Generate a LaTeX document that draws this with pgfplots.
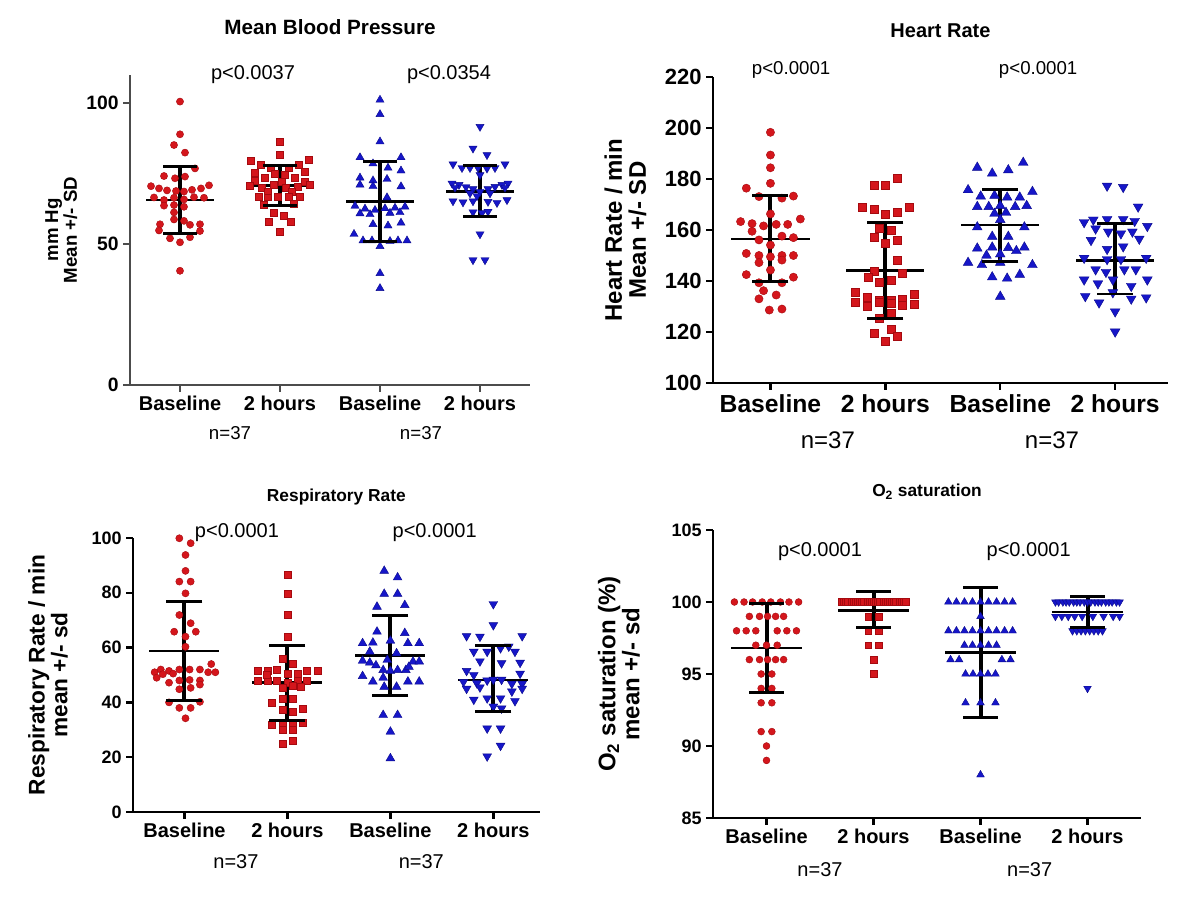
\documentclass[border=0pt]{standalone}
\usepackage{fontspec}
\setmainfont{Liberation Sans}
\usepackage{pgfplots}
\pgfplotsset{compat=1.18}
\definecolor{mred}{RGB}{212,22,28}
\definecolor{mredd}{RGB}{165,10,15}
\definecolor{mblue}{RGB}{22,22,200}
\definecolor{mblued}{RGB}{10,10,140}
\newcommand\fs[1]{\fontsize{#1}{#1}\selectfont}
\pgfplotsset{
  gp/.style={scale only axis, axis lines*=left, xmin=0.5, xtick={1,2,3,4},
    xticklabels={Baseline,2 hours,Baseline,2 hours}, tick align=outside,
    major tick length=5pt, clip=false, /pgf/number format/assume math mode=true,
    axis line style={line width=1.8pt, black}, tick style={line width=1.8pt, black},
    ylabel style={align=center}},
  rc/.style={only marks, mark=*, mark size=#1, mark options={fill=mred, draw=mredd, line width=0.3pt}},
  rs/.style={only marks, mark=square*, mark size=#1, mark options={fill=mred, draw=mredd, line width=0.3pt}},
  bu/.style={only marks, mark=triangle*, mark size=#1, mark options={fill=mblue, draw=mblued, line width=0.3pt}},
  bd/.style={only marks, mark=triangle*, mark size=#1, mark options={fill=mblue, draw=mblued, line width=0.3pt, rotate=180}},
  sdbar/.style={black, line width=3pt, mark=-, mark size=#1, mark options={line width=2.2pt}},
  mline/.style={black, line width=2pt},
}
\begin{document}
\begin{tikzpicture}
\path[use as bounding box] (0pt,0pt) rectangle (900pt,686.25pt);

% ---------------- Mean Blood Pressure ----------------
\begin{axis}[gp, at={(97.5pt,397.5pt)}, anchor=south west, width=300pt, height=232.65pt,
  xmax=4.5, ymin=0, ymax=110, ytick={0,50,100},
  axis line style={line width=1.2pt, black!70}, tick style={line width=1.2pt, black!70},
  xticklabel style={font=\fs{15pt}\bfseries}, yticklabel style={font=\fs{14.5pt}\bfseries},
  ylabel={mm Hg\\Mean +/- SD}, ylabel style={font=\fs{14pt}\bfseries}]
\addplot[rc=2.7pt] coordinates {(1,100.5)(1,88.9)(0.94,85.1)(1.05,82.4)(1.15,76.8)(0.84,74.1)(0.95,73.3)(1.05,73.9)(0.71,70.5)(0.79,69.7)(0.87,69.0)(0.96,68.8)(1.04,68.6)(1.12,69.2)(1.21,69.7)(1.29,70.8)(0.74,66.5)(0.84,65.6)(0.94,66.4)(1.04,65.8)(1.14,66.6)(1.24,66.4)(0.84,63.6)(0.94,63.8)(1.04,63.2)(0.94,61.2)(0.94,58.7)(1.04,58.2)(0.8,57.0)(1.1,56.8)(1.2,57.0)(0.79,54.8)(1.2,54.6)(0.9,52.0)(1,50.6)(1.1,52.4)(1,40.5)};
\addplot[rs=2.6pt] coordinates {(2,86.3)(2,81.6)(1.71,79.5)(2.29,80.0)(1.81,78.0)(2.19,78.0)(1.91,77.2)(2.09,77.0)(1.75,75.3)(2.25,75.6)(1.95,75.0)(2.05,74.5)(1.85,73.5)(2.15,73.5)(1.75,72.3)(2.25,72.0)(2.02,72.2)(1.7,70.8)(2.3,70.9)(1.82,70.0)(2.06,70.0)(2.18,70.2)(1.88,68.5)(2.12,68.6)(1.79,66.8)(1.88,66.6)(1.98,66.9)(2.09,66.8)(2.2,66.8)(1.84,63.8)(2.14,64.2)(1.94,61.2)(2.04,60.0)(1.89,57.9)(2.11,57.9)(2,54.4)(1.94,71.0)};
\addplot[bu=3.5pt] coordinates {(3,101.1)(3,96.0)(3,86.3)(2.8,80.7)(3.21,80.7)(2.93,78.5)(3.08,77.0)(3.21,76.0)(2.8,73.5)(2.93,72.5)(3.07,73.0)(2.8,71.0)(2.93,70.5)(3.21,70.4)(3.07,66.5)(2.75,63.5)(2.85,62.5)(2.95,62.0)(3.05,62.6)(3.15,62.8)(3.25,63.2)(2.8,60.8)(2.9,60.5)(3.1,61.0)(3.2,61.2)(2.93,57.0)(3.08,56.5)(3.21,57.5)(2.74,53.5)(2.83,51.2)(2.92,51.2)(3,49.2)(3.1,51.0)(3.18,51.2)(3.27,51.2)(3,39.6)(3,34.3)};
\addplot[bd=3.5pt] coordinates {(4,91.6)(3.93,83.9)(4.07,81.6)(3.73,78.3)(3.82,77.0)(3.9,77.0)(3.98,77.0)(4.07,76.8)(4.15,77.0)(4.25,78.3)(4,74.5)(3.72,71.5)(3.79,71.0)(3.86,70.2)(3.93,69.5)(4,68.5)(4.08,69.5)(4.15,70.3)(4.22,71.0)(4.28,71.5)(3.75,70.0)(4.25,70.0)(3.9,68.0)(4.1,68.0)(3.73,65.2)(3.83,64.8)(3.93,65.2)(4.08,65.0)(4.17,64.6)(4.27,65.6)(3.93,61.3)(4.02,61.0)(4.08,61.5)(4,53.5)(3.93,44.3)(4.05,44.3)(3.97,67.0)};
\addplot[sdbar=12.75pt] coordinates {(1,53.8)(1,77.4)};
\addplot[mline] coordinates {(0.66,65.6)(1.34,65.6)};
\addplot[sdbar=12.75pt] coordinates {(2,63.6)(2,78.0)};
\addplot[mline] coordinates {(1.66,70.8)(2.34,70.8)};
\addplot[sdbar=12.75pt] coordinates {(3,50.8)(3,79.2)};
\addplot[mline] coordinates {(2.66,65.0)(3.34,65.0)};
\addplot[sdbar=12.75pt] coordinates {(4,59.7)(4,77.7)};
\addplot[mline] coordinates {(3.66,68.5)(4.34,68.5)};
\node[font=\fs{15pt}] at (axis cs:1.73,110) {p<0.0037};
\node[font=\fs{15pt}] at (axis cs:3.69,110) {p<0.0354};
\node[font=\fs{14pt}] at ([yshift=-36pt]axis cs:1.5,0) {n=37};
\node[font=\fs{14pt}] at ([yshift=-36pt]axis cs:3.41,0) {n=37};
\node[font=\fs{15.5pt}\bfseries] at ([yshift=36pt]rel axis cs:0.5,1) {Mean Blood Pressure};
\end{axis}

% ---------------- Heart Rate ----------------
\begin{axis}[gp, at={(534.75pt,399pt)}, anchor=south west, width=341.25pt, height=229.5pt,
  xmax=4.46, ymin=100, ymax=220, ytick={100,120,...,220},
  xticklabel style={font=\fs{18.5pt}\bfseries}, yticklabel style={font=\fs{16.5pt}\bfseries},
  ylabel={Heart Rate / min\\Mean +/- SD}, ylabel style={font=\fs{18pt}\bfseries}, ylabel shift=7pt]
\addplot[rc=3.1pt] coordinates {(1,198.3)(1,189.4)(1,184.4)(1,178.3)(0.79,176.4)(0.9,173.1)(1.1,172.5)(1.2,173.3)(1,166.3)(0.74,163.3)(0.84,162.5)(0.94,161.6)(1.05,162.2)(1.15,162.2)(1.26,164.3)(0.84,159.5)(1.1,157.6)(0.9,156.1)(1.2,157.0)(1,154.1)(0.79,150.8)(0.9,150.0)(1,149.5)(1.1,150.0)(1.2,150.0)(0.9,147.2)(1.1,148.2)(1,144.3)(0.79,142.5)(1.2,141.5)(0.9,139.3)(1.1,139.3)(0.94,136.2)(0.9,133.0)(1.05,134.5)(0.99,128.6)(1.1,129.0)};
\addplot[rs=3pt] coordinates {(2.1,180.5)(1.9,177.4)(2,177.4)(1.8,169.0)(1.9,168.3)(2.21,169.0)(2,166.0)(2.1,166.8)(1.95,160.8)(2.05,160.0)(1.9,157.2)(2.1,156.0)(2,155.0)(2.1,148.2)(1.9,144.0)(2.15,143.2)(1.85,141.5)(1.95,139.5)(2.05,140.3)(1.74,135.5)(1.84,133.8)(1.95,132.5)(2.05,132.5)(2.15,133.0)(2.25,134.8)(1.74,131.5)(1.84,130.0)(1.95,131.5)(2.05,131.2)(2.15,130.5)(2.25,130.8)(1.95,125.5)(2.05,127.5)(1.9,119.5)(2.05,121.0)(2.1,118.5)(2,116.2)};
\addplot[bu=4.2pt] coordinates {(3.2,186.4)(2.8,184.5)(3.07,183.5)(2.93,182.2)(2.72,175.7)(3.28,175.0)(2.83,173.2)(2.95,173.5)(3.06,172.8)(3.17,172.8)(2.8,169.1)(2.9,169.1)(3,169.5)(3.13,169.1)(3.23,169.5)(2.95,166.4)(3.05,166.8)(3,164.0)(2.8,161.1)(3.21,161.1)(2.93,157.4)(3.07,157.4)(2.8,152.8)(2.93,153.2)(3.07,153.0)(3.14,151.8)(3.21,153.2)(2.88,150.0)(3,150.5)(2.72,147.2)(2.84,146.3)(3,147.2)(3.28,146.3)(2.93,141.5)(3.06,141.0)(3.17,142.5)(3,133.9)};
\addplot[bd=4.2pt] coordinates {(3.93,177.3)(4.07,176.8)(4.2,169.1)(3.73,163.0)(3.81,164.0)(3.93,164.2)(4.07,164.2)(4.17,163.5)(4.28,161.5)(3.83,160.5)(3.94,159.3)(4.05,158.6)(4.15,159.3)(4.21,156.5)(3.79,156.0)(4.07,153.5)(3.93,152.5)(3.73,149.0)(3.93,148.5)(4.05,148.5)(4.27,149.0)(3.83,144.5)(3.92,143.5)(4.08,144.5)(4.18,144.5)(3.73,140.5)(3.85,139.0)(3.98,140.5)(4.14,138.0)(4.28,140.5)(3.74,134.0)(3.86,131.5)(3.98,135.5)(4.14,133.0)(4.27,133.5)(4,128.0)(4,120.1)};
\addplot[sdbar=13.5pt] coordinates {(1,139.7)(1,173.5)};
\addplot[mline] coordinates {(0.66,156.5)(1.34,156.5)};
\addplot[sdbar=13.5pt] coordinates {(2,125.4)(2,162.9)};
\addplot[mline] coordinates {(1.66,144.1)(2.34,144.1)};
\addplot[sdbar=13.5pt] coordinates {(3,147.6)(3,176.0)};
\addplot[mline] coordinates {(2.66,162.0)(3.34,162.0)};
\addplot[sdbar=13.5pt] coordinates {(4,134.9)(4,162.4)};
\addplot[mline] coordinates {(3.66,148.1)(4.34,148.1)};
\node[font=\fs{14pt}] at (axis cs:1.18,222.7) {p<0.0001};
\node[font=\fs{14pt}] at (axis cs:3.33,222.7) {p<0.0001};
\node[font=\fs{18pt}] at ([yshift=-42.75pt]axis cs:1.5,100) {n=37};
\node[font=\fs{18pt}] at ([yshift=-42.75pt]axis cs:3.45,100) {n=37};
\node[font=\fs{15pt}\bfseries] at ([yshift=35pt]rel axis cs:0.5,1) {Heart Rate};
\end{axis}

% ---------------- Respiratory Rate ----------------
\begin{axis}[gp, at={(99.75pt,77.25pt)}, anchor=south west, width=305pt, height=205.5pt,
  xmax=4.45, ymin=0, ymax=100, ytick={0,20,...,100},
  xticklabel style={font=\fs{15pt}\bfseries}, yticklabel style={font=\fs{13.5pt}\bfseries},
  ylabel={Respiratory Rate / min\\mean +/- sd}, ylabel style={font=\fs{17pt}\bfseries}, ylabel shift=11pt]
\addplot[rc=2.7pt] coordinates {(0.95,99.9)(1.06,98.1)(1.01,93.8)(1.01,88.0)(0.95,84.1)(1.06,84.1)(1.01,79.8)(0.95,71.9)(1.06,68.9)(0.9,65.8)(1.11,65.8)(1.01,64.0)(1.01,60.3)(1.26,54.0)(0.71,51.0)(0.77,52.0)(0.85,51.5)(0.95,52.0)(1.05,52.0)(1.15,52.0)(1.23,51.0)(1.3,51.0)(0.79,50.3)(0.89,50.5)(0.73,49.0)(0.85,47.2)(0.95,48.0)(1.05,48.2)(1.15,48.0)(0.95,44.8)(1.06,45.3)(1.15,46.5)(0.85,40.0)(1.15,40.2)(0.95,38.0)(1.06,38.0)(1.01,34.2)};
\addplot[rs=2.6pt] coordinates {(2,86.5)(2,79.8)(2,71.9)(2,64.0)(1.95,56.0)(2.05,54.0)(1.71,51.6)(1.81,51.6)(1.9,51.8)(2,50.5)(2.1,50.5)(2.19,51.6)(2.29,51.6)(1.71,47.8)(1.81,47.8)(1.9,48.0)(2,47.2)(2.1,47.8)(2.19,47.8)(1.95,45.5)(2.05,46.0)(2.13,45.8)(1.85,40.0)(1.95,41.5)(2.05,41.2)(1.95,37.5)(2.05,36.5)(2.15,37.8)(1.85,32.0)(1.95,32.5)(2.05,32.5)(2.15,32.5)(1.95,30.0)(2.05,30.0)(1.95,24.8)(2.05,26.0)(1.8,50.0)};
\addplot[bu=3.8pt] coordinates {(2.94,88.0)(3.07,85.6)(2.94,79.6)(3.07,79.6)(2.87,74.9)(3.14,75.5)(2.87,65.8)(3.14,65.3)(2.73,61.6)(2.83,61.8)(3,62.5)(3.17,61.6)(3.28,61.6)(3.06,57.9)(2.8,58.5)(2.73,55.2)(2.8,54.5)(2.86,53.5)(2.93,51.8)(3,51.5)(3.07,51.8)(3.15,51.8)(3.22,54.9)(3.28,54.9)(2.97,55.5)(2.73,49.6)(2.93,49.0)(2.83,47.6)(2.94,45.7)(3.06,45.7)(3.17,47.6)(3.28,47.6)(2.93,35.4)(3.07,35.4)(3,29.3)(3,19.6)(3.18,53.0)};
\addplot[bd=3.8pt] coordinates {(4,75.9)(4,68.2)(3.74,64.2)(3.87,64.0)(4.28,64.2)(3.81,58.5)(3.94,58.5)(4.07,59.8)(4.15,60.4)(4.21,58.5)(4.08,54.3)(3.87,55.0)(4.26,54.5)(3.74,51.5)(3.81,50.0)(4.26,50.5)(3.71,47.5)(3.84,47.0)(3.94,48.0)(4,48.3)(4.08,48.3)(4.18,46.8)(4.28,46.8)(3.74,45.0)(3.87,45.5)(4.18,44.0)(4.28,45.0)(3.81,41.0)(3.94,41.5)(4.07,41.5)(4.21,40.5)(4,38.5)(4.08,37.8)(3.94,30.5)(4.07,30.5)(4.07,24.2)(3.94,20.3)};
\addplot[sdbar=13.5pt] coordinates {(1,40.6)(1,76.7)};
\addplot[mline] coordinates {(0.66,58.8)(1.34,58.8)};
\addplot[sdbar=13.5pt] coordinates {(2,33.4)(2,60.6)};
\addplot[mline] coordinates {(1.66,47.2)(2.34,47.2)};
\addplot[sdbar=13.5pt] coordinates {(3,42.5)(3,71.7)};
\addplot[mline] coordinates {(2.66,57.1)(3.34,57.1)};
\addplot[sdbar=13.5pt] coordinates {(4,36.6)(4,60.6)};
\addplot[mline] coordinates {(3.66,48.2)(4.34,48.2)};
\node[font=\fs{15pt}] at (axis cs:1.51,101.8) {p<0.0001};
\node[font=\fs{15pt}] at (axis cs:3.43,101.8) {p<0.0001};
\node[font=\fs{15pt}] at ([yshift=-37.5pt]axis cs:1.5,0) {n=37};
\node[font=\fs{15pt}] at ([yshift=-37.5pt]axis cs:3.3,0) {n=37};
\node[font=\fs{13pt}\bfseries] at ([yshift=31pt]rel axis cs:0.5,1) {Respiratory Rate};
\end{axis}

% ---------------- O2 saturation ----------------
\begin{axis}[gp, at={(534.75pt,72.75pt)}, anchor=south west, width=321pt, height=216pt,
  xmax=4.5, ymin=85, ymax=105, ytick={85,90,...,105},
  xticklabel style={font=\fs{15pt}\bfseries}, yticklabel style={font=\fs{13.5pt}\bfseries},
  ylabel={O\textsubscript{2} saturation (\%)\\mean +/- sd}, ylabel style={font=\fs{18pt}\bfseries}, ylabel shift=17pt]
\addplot[rc=2.6pt] coordinates {(0.7,100)(0.79,100)(0.87,100)(0.96,100)(1.04,100)(1.13,100)(1.21,100)(1.3,100)(0.84,99)(0.935,99)(1.01,99)(1.085,99)(1.16,99)(0.72,98)(0.81,98)(0.9,98)(1.1,98)(1.19,98)(1.28,98)(0.9,97)(1,97)(1.1,97)(0.84,96)(0.935,96)(1.01,96)(1.085,96)(1.16,96)(0.95,95)(1.05,95)(0.95,94)(1.05,94)(0.95,93)(1.05,93)(0.95,91)(1.05,91)(1,90)(1,89)};
\addplot[rs=2.5pt] coordinates {(1.70,100)(1.72,100)(1.74,100)(1.76,100)(1.79,100)(1.81,100)(1.83,100)(1.85,100)(1.87,100)(1.89,100)(1.91,100)(1.94,100)(1.96,100)(1.98,100)(2.0,100)(2.02,100)(2.04,100)(2.06,100)(2.09,100)(2.11,100)(2.13,100)(2.15,100)(2.17,100)(2.19,100)(2.21,100)(2.24,100)(2.26,100)(2.28,100)(2.30,100)(1.95,99)(2.05,99)(1.95,98)(2.05,98)(1.95,97)(2.05,97)(2,96)(2,95)};
\addplot[bu=3.3pt] coordinates {(2.7,100)(2.775,100)(2.85,100)(2.925,100)(3.0,100)(3.075,100)(3.15,100)(3.225,100)(3.3,100)(3,99)(2.7,98)(2.775,98)(2.85,98)(2.925,98)(3.0,98)(3.075,98)(3.15,98)(3.225,98)(3.3,98)(2.85,97)(2.925,97)(3.0,97)(3.075,97)(3.15,97)(2.72,96)(2.8,96)(3.2,96)(3.28,96)(2.86,95)(2.93,95)(3.0,95)(3.07,95)(3.14,95)(2.86,93)(3.0,93)(3.14,93)(3,88)};
\addplot[bd=3.3pt] coordinates {(3.70,100)(3.73,100)(3.77,100)(3.80,100)(3.83,100)(3.87,100)(3.90,100)(3.93,100)(3.97,100)(4.0,100)(4.03,100)(4.07,100)(4.10,100)(4.13,100)(4.17,100)(4.20,100)(4.23,100)(4.27,100)(4.30,100)(3.7,99)(3.76,99)(3.82,99)(3.88,99)(3.95,99)(4.05,99)(4.15,99)(4.24,99)(4.3,99)(3.86,98)(3.9,98)(3.94,98)(3.98,98)(4.02,98)(4.06,98)(4.1,98)(4.14,98)(4,94)};
\addplot[sdbar=13pt] coordinates {(1,93.7)(1,99.9)};
\addplot[mline] coordinates {(0.67,96.8)(1.33,96.8)};
\addplot[sdbar=13pt] coordinates {(2,98.2)(2,100.7)};
\addplot[mline] coordinates {(1.67,99.4)(2.33,99.4)};
\addplot[sdbar=13pt] coordinates {(3,92.0)(3,101.0)};
\addplot[mline] coordinates {(2.67,96.5)(3.33,96.5)};
\addplot[sdbar=13pt] coordinates {(4,98.2)(4,100.4)};
\addplot[mline] coordinates {(3.67,99.3)(4.33,99.3)};
\node[font=\fs{15pt}] at (axis cs:1.5,103.5) {p<0.0001};
\node[font=\fs{15pt}] at (axis cs:3.45,103.5) {p<0.0001};
\node[font=\fs{15pt}] at ([yshift=-39pt]axis cs:1.5,85) {n=37};
\node[font=\fs{15pt}] at ([yshift=-39pt]axis cs:3.46,85) {n=37};
\node[font=\fs{13pt}\bfseries] at ([yshift=28.5pt]rel axis cs:0.5,1) {O\textsubscript{2} saturation};
\end{axis}
\end{tikzpicture}
\end{document}
